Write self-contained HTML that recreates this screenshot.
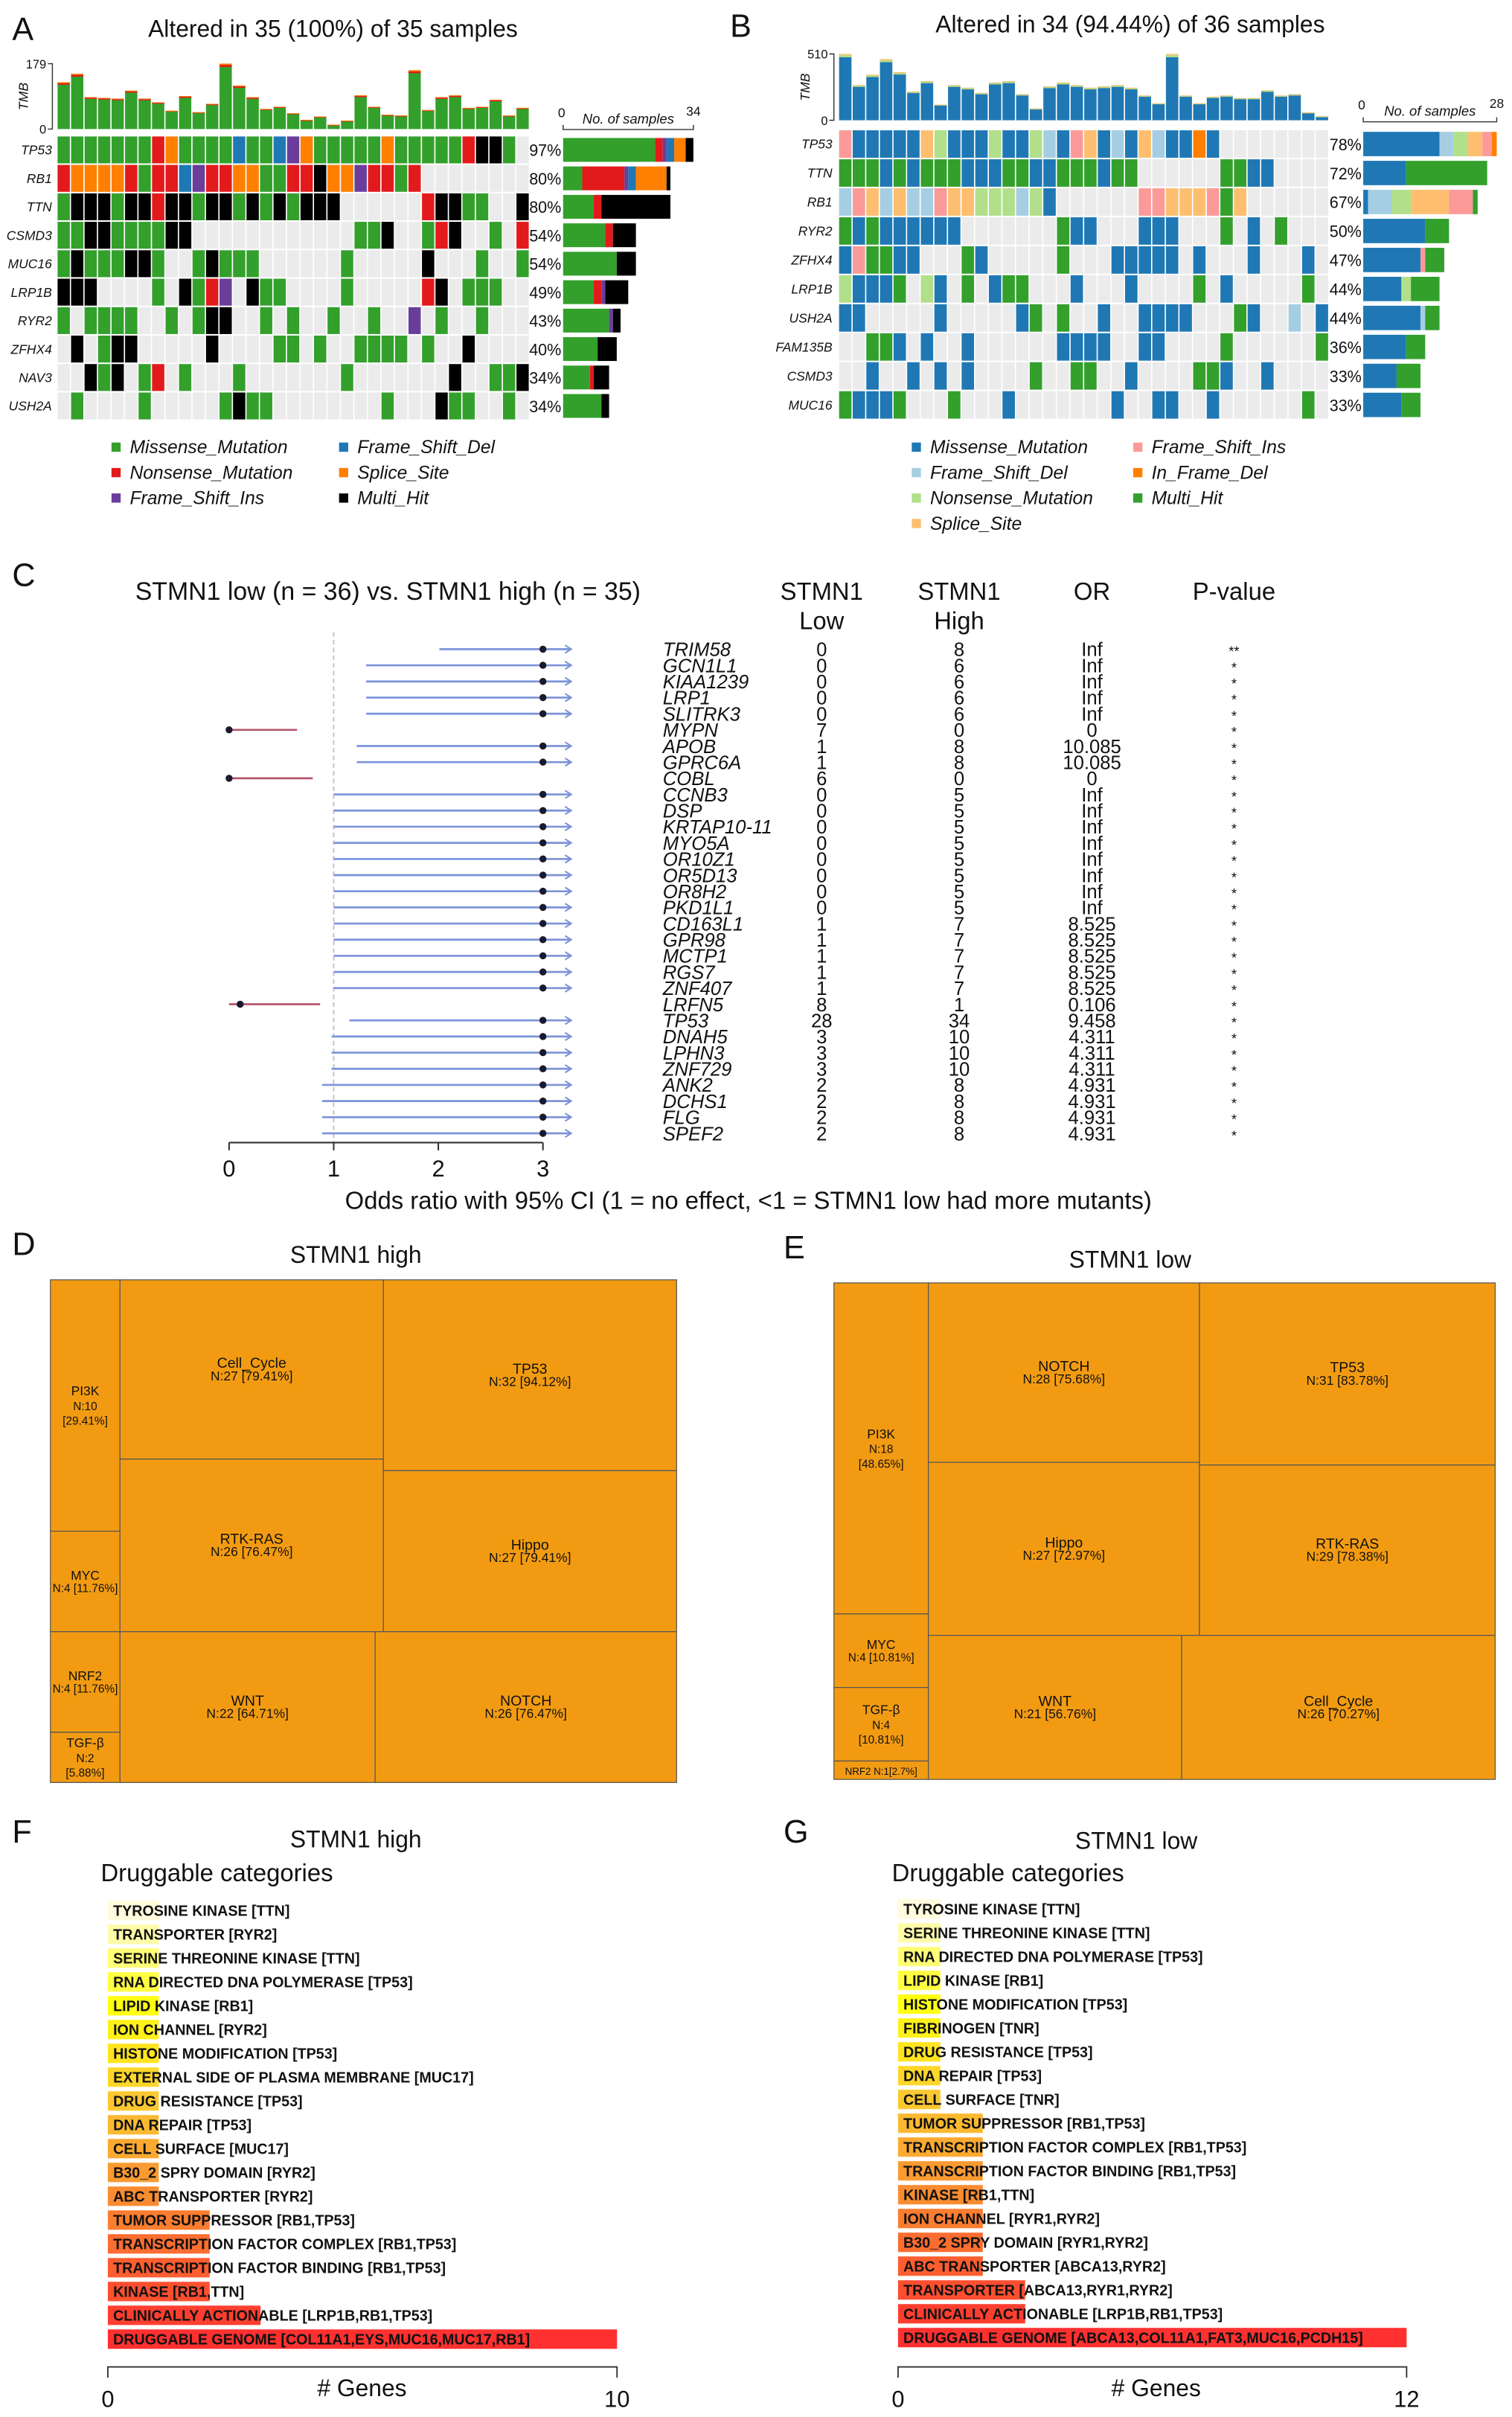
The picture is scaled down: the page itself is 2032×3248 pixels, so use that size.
<!DOCTYPE html>
<html><head><meta charset="utf-8">
<style>
html,body{margin:0;padding:0;background:#fff;width:2032px;height:3248px;overflow:hidden}
svg{display:block}
text{font-family:"Liberation Sans",sans-serif;fill:#111}
.nw{font-family:"Liberation Sans Narrow","Liberation Sans",sans-serif}
</style></head>
<body>
<svg id="fig" xmlns="http://www.w3.org/2000/svg" width="2032" height="3248" viewBox="0 0 990 1567.5" preserveAspectRatio="none">
<rect x="0" y="0" width="990" height="1567.5" fill="#fff"/>
<text x="8" y="26" font-size="21">A</text>
<text x="218" y="24" font-size="15.5" text-anchor="middle">Altered in 35 (100%) of 35 samples</text>
<text x="478" y="24" font-size="21">B</text>
<text x="740" y="21" font-size="15.5" text-anchor="middle">Altered in 34 (94.44%) of 36 samples</text>
<text x="8" y="380" font-size="21">C</text>
<text x="254" y="389" font-size="16.5" text-anchor="middle" class="nw">STMN1 low (n = 36) vs. STMN1 high (n = 35)</text>
<text x="538" y="389" font-size="16" text-anchor="middle" class="nw">STMN1</text>
<text x="538" y="408" font-size="16" text-anchor="middle" class="nw">Low</text>
<text x="628" y="389" font-size="16" text-anchor="middle" class="nw">STMN1</text>
<text x="628" y="408" font-size="16" text-anchor="middle" class="nw">High</text>
<text x="715" y="389" font-size="16" text-anchor="middle" class="nw">OR</text>
<text x="808" y="389" font-size="16" text-anchor="middle" class="nw">P-value</text>
<text x="490" y="784" font-size="16" text-anchor="middle" class="nw">Odds ratio with 95% CI (1 = no effect, &lt;1 = STMN1 low had more mutants)</text>
<text x="8" y="814" font-size="21">D</text>
<text x="233" y="819" font-size="15.5" text-anchor="middle">STMN1 high</text>
<text x="513" y="816" font-size="21">E</text>
<text x="740" y="822" font-size="15.5" text-anchor="middle">STMN1 low</text>
<text x="8" y="1195" font-size="21">F</text>
<text x="233" y="1198" font-size="15.5" text-anchor="middle">STMN1 high</text>
<text x="66" y="1220" font-size="16">Druggable categories</text>
<text x="237" y="1554" font-size="15.5" text-anchor="middle"># Genes</text>
<text x="513" y="1195" font-size="21">G</text>
<text x="744" y="1199" font-size="15.5" text-anchor="middle">STMN1 low</text>
<text x="584" y="1220" font-size="16">Druggable categories</text>
<text x="757" y="1554" font-size="15.5" text-anchor="middle"># Genes</text>
</svg>
<script>
// ---------- Panel A data ----------
const aGenes=['TP53','RB1','TTN','CSMD3','MUC16','LRP1B','RYR2','ZFHX4','NAV3','USH2A'];
const aPct=['97%','80%','80%','54%','54%','49%','43%','40%','34%','34%'];
const aRows=[
"gggggggroggggbggbpogggggogggggrkkg.",
"roooorgrrbprrooggrrkooprrgr........",
"gkkkgkkrkkgkkgkgkgkkk......rkkgg..k",
"ggkkggggkk............ggk..grk..g.r",
"gkgggkkg..gkggg......g.....k...g..g",
"kkk....g.kgrp.kgg....g.....rk.ggg.",
"g.gggg..g.gkk..g.g..g..g..p.g..g...",
".k.gkk.....k....gg.g..gggg.g..k...",
"..kgk.gr.g...g.......g.......k..ggk",
".g....g.....gkgg........g...kgg..g.g"];
const aTmb=[128,151,87,85,83,105,83,73,50,90,46,69,179,119,87,55,61,43,25,34,12,23,92,61,39,37,161,52,87,92,58,61,80,37,58];
const aTmbMax=179;
const aSide=[[24,2,1,2,3,2],[5,11,1,2,8,1],[8,2,0,0,0,18],[11,2,0,0,0,6],[14,0,0,0,0,5],[8,2,1,0,0,6],[12,0,1,0,0,2],[9,0,0,0,0,5],[7,1,0,0,0,4],[10,0,0,0,0,2]];
const aSideMax=34;
const aOrder=['g','r','p','b','o','k'];
const aColors={g:'#33a02c',r:'#e31a1c',p:'#6a3d9a',b:'#1f78b4',o:'#ff7f00',k:'#000000'};
const aLegendKeys=['g','r','p','b','o','k'];
const aLegendText=['Missense_Mutation','Nonsense_Mutation','Frame_Shift_Ins','Frame_Shift_Del','Splice_Site','Multi_Hit'];

// ---------- Panel B data ----------
const bGenes=['TP53','TTN','RB1','RYR2','ZFHX4','LRP1B','USH2A','FAM135B','CSMD3','MUC16'];
const bPct=['78%','72%','67%','50%','47%','44%','44%','36%','33%','33%'];
const bRows=[
"immmmmsnmmmnmmndmismdmsdmmfm........",
"hhhmhmhhhmmmhhmmhhhmhh......hhmm....",
"disdsddissnnndnm......iisssihs......",
"hmhmmmmmm.......hmm...mmm...h.m.h...",
"mihhmm...hm.....h...mmmmm.m...m...m.",
"nmmmh.nm.h.mhh...m...m....h.m.....h.",
"mm.....m.....mh.h..m..mmmm...hm..d.mm",
"..hhm.m..m......mmmm..mm....h......h",
"..m..m.m.m....h..hh..m....hhm..m....",
"hmmmh...h...m.......m..mm..m......h."];
const bTmb=[510,270,350,470,370,220,300,120,270,250,210,290,300,200,90,260,290,270,250,260,270,250,190,130,510,190,130,180,190,170,170,230,190,200,60,30];
const bTmbMax=510;
const bSide=[[16,3,3,3,2,1,0],[9,0,0,0,0,0,17],[1,5,4,8,5,0,1],[13,0,0,0,0,0,5],[12,0,0,0,1,0,4],[8,0,2,0,0,0,6],[12,1,0,0,0,0,3],[9,0,0,0,0,0,4],[7,0,0,0,0,0,5],[8,0,0,0,0,0,4]];
const bSideMax=28;
const bOrder=['m','d','n','s','i','f','h'];
const bColors={m:'#1f78b4',d:'#a6cee3',n:'#b2df8a',s:'#fdbf6f',i:'#fb9a99',f:'#ff7f00',h:'#33a02c'};
const bLegendKeys=['m','d','n','s','i','f','h'];
const bLegendText=['Missense_Mutation','Frame_Shift_Del','Nonsense_Mutation','Splice_Site','Frame_Shift_Ins','In_Frame_Del','Multi_Hit'];

// ---------- Panel C data ----------
const fGenes=['TRIM58','GCN1L1','KIAA1239','LRP1','SLITRK3','MYPN','APOB','GPRC6A','COBL','CCNB3','DSP','KRTAP10-11','MYO5A','OR10Z1','OR5D13','OR8H2','PKD1L1','CD163L1','GPR98','MCTP1','RGS7','ZNF407','LRFN5','TP53','DNAH5','LPHN3','ZNF729','ANK2','DCHS1','FLG','SPEF2'];
const fLow=[0,0,0,0,0,7,1,1,6,0,0,0,0,0,0,0,0,1,1,1,1,1,8,28,3,3,3,2,2,2,2];
const fHigh=[8,6,6,6,6,0,8,8,0,5,5,5,5,5,5,5,5,7,7,7,7,7,1,34,10,10,10,8,8,8,8];
const fOR=['Inf','Inf','Inf','Inf','Inf','0','10.085','10.085','0','Inf','Inf','Inf','Inf','Inf','Inf','Inf','Inf','8.525','8.525','8.525','8.525','8.525','0.106','9.458','4.311','4.311','4.311','4.931','4.931','4.931','4.931'];
const fP=['**','*','*','*','*','*','*','*','*','*','*','*','*','*','*','*','*','*','*','*','*','*','*','*','*','*','*','*','*','*','*'];
const fCiLow=[2.01,1.31,1.31,1.31,1.31,0,1.22,1.22,0,1,1,1,1,1,1,1,1,1,1,1,1,1,0,1.15,0.98,0.98,0.98,0.89,0.89,0.89,0.89];
const fCiHigh=[Infinity,Infinity,Infinity,Infinity,Infinity,0.65,Infinity,Infinity,0.8,Infinity,Infinity,Infinity,Infinity,Infinity,Infinity,Infinity,Infinity,Infinity,Infinity,Infinity,Infinity,Infinity,0.87,Infinity,Infinity,Infinity,Infinity,Infinity,Infinity,Infinity,Infinity];
const fTicks=[0,1,2,3];

// ---------- Panel D/E data ----------
const dNames=['PI3K','MYC','NRF2','TGF-β','Cell_Cycle','RTK-RAS','TP53','Hippo','WNT','NOTCH'];
const dN=[10,4,4,2,27,26,32,27,22,26];
const dPct=['29.41%','11.76%','11.76%','5.88%','79.41%','76.47%','94.12%','79.41%','64.71%','76.47%'];
const dTree={dir:'h',kids:[{dir:'v',kids:[0,1,2,3]},{dir:'v',kids:[{dir:'h',kids:[{dir:'v',kids:[4,5]},{dir:'v',kids:[6,7]}]},{dir:'h',kids:[8,9]}]}]};
const eNames=['PI3K','MYC','TGF-β','NRF2','NOTCH','Hippo','TP53','RTK-RAS','WNT','Cell_Cycle'];
const eN=[18,4,4,1,28,27,31,29,21,26];
const ePct=['48.65%','10.81%','10.81%','2.7%','75.68%','72.97%','83.78%','78.38%','56.76%','70.27%'];
const eTree={dir:'h',kids:[{dir:'v',kids:[0,1,2,3]},{dir:'v',kids:[{dir:'h',kids:[{dir:'v',kids:[4,5]},{dir:'v',kids:[6,7]}]},{dir:'h',kids:[8,9]}]}]};

// ---------- Panel F/G data ----------
const gfLabels=['TYROSINE KINASE [TTN]','TRANSPORTER [RYR2]','SERINE THREONINE KINASE [TTN]','RNA DIRECTED DNA POLYMERASE [TP53]','LIPID KINASE [RB1]','ION CHANNEL [RYR2]','HISTONE MODIFICATION [TP53]','EXTERNAL SIDE OF PLASMA MEMBRANE [MUC17]','DRUG RESISTANCE [TP53]','DNA REPAIR [TP53]','CELL SURFACE [MUC17]','B30_2 SPRY DOMAIN [RYR2]','ABC TRANSPORTER [RYR2]','TUMOR SUPPRESSOR [RB1,TP53]','TRANSCRIPTION FACTOR COMPLEX [RB1,TP53]','TRANSCRIPTION FACTOR BINDING [RB1,TP53]','KINASE [RB1,TTN]','CLINICALLY ACTIONABLE [LRP1B,RB1,TP53]','DRUGGABLE GENOME [COL11A1,EYS,MUC16,MUC17,RB1]'];
const gfValues=[1,1,1,1,1,1,1,1,1,1,1,1,1,2,2,2,2,3,10];
const gfMax=10;
const ggLabels=['TYROSINE KINASE [TTN]','SERINE THREONINE KINASE [TTN]','RNA DIRECTED DNA POLYMERASE [TP53]','LIPID KINASE [RB1]','HISTONE MODIFICATION [TP53]','FIBRINOGEN [TNR]','DRUG RESISTANCE [TP53]','DNA REPAIR [TP53]','CELL SURFACE [TNR]','TUMOR SUPPRESSOR [RB1,TP53]','TRANSCRIPTION FACTOR COMPLEX [RB1,TP53]','TRANSCRIPTION FACTOR BINDING [RB1,TP53]','KINASE [RB1,TTN]','ION CHANNEL [RYR1,RYR2]','B30_2 SPRY DOMAIN [RYR1,RYR2]','ABC TRANSPORTER [ABCA13,RYR2]','TRANSPORTER [ABCA13,RYR1,RYR2]','CLINICALLY ACTIONABLE [LRP1B,RB1,TP53]','DRUGGABLE GENOME [ABCA13,COL11A1,FAT3,MUC16,PCDH15]'];
const ggValues=[1,1,1,1,1,1,1,1,1,2,2,2,2,2,2,2,3,3,12];
const ggMax=12;

// ---------- helpers ----------
const NS='http://www.w3.org/2000/svg';
const svg=document.getElementById('fig');
function mk(tag,attrs,parent){const e=document.createElementNS(NS,tag);for(const k in attrs)e.setAttribute(k,attrs[k]);(parent||svg).appendChild(e);return e;}
function txt(s,x,y,size,extra,parent){const e=mk('text',Object.assign({x:x,y:y,'font-size':size},extra||{}),parent);e.textContent=s;return e;}

// ---------- oncoplot ----------
function drawOnco(name,genes,pct,rows,tmb,tmbMax,side,sideMax,order,colors,caps,lKeys,lText,lCols,geo){
  const g=mk('g',{});
  
  
  const n=tmb.length, cw=(geo.x1-geo.x0)/n;
  const xs=i=>geo.x0+i*cw;
  const ty=v=>geo.tmbBase-(v/tmbMax)*(geo.tmbBase-geo.tmbTop);
  const ax=mk('path',{d:`M${geo.x0-6},${ty(tmbMax)} H${geo.x0-3} V${ty(0)} H${geo.x0-6}`,stroke:'#333','stroke-width':0.7,fill:'none'},g);
  
  
  const t1=txt(String(tmbMax),geo.x0-7,ty(tmbMax)+3,8,{'text-anchor':'end'},g);
  
  
  const t0=txt('0',geo.x0-7,ty(0)+3,8,{'text-anchor':'end'},g);
  
  
  const tt=txt('TMB',0,0,8.5,{'font-style':'italic','text-anchor':'middle',transform:`translate(${geo.x0-19},${(ty(0)+ty(tmbMax))/2}) rotate(-90)`},g);
  
  
  tmb.forEach((v,i)=>{
    const h=geo.tmbBase-ty(v);
    const b=mk('rect',{x:xs(i)+0.4,y:ty(v),width:cw-0.8,height:h,fill:colors[order[0]]},g);
    
    
    const c1=mk('rect',{x:xs(i)+0.4,y:ty(v),width:cw-0.8,height:Math.max(0.6,h*0.05),fill:caps[0]},g);
    
    
    const c2=mk('rect',{x:xs(i)+0.4,y:ty(v),width:cw-0.8,height:Math.max(0.4,h*0.02),fill:caps[1]},g);
    
    
  });
  const sx=v=>geo.sideX0+v/sideMax*(geo.sideX1-geo.sideX0);
  rows.forEach((s,gi)=>{
    const y=geo.y0+gi*geo.rowH;
    for(let i=0;i<n;i++){
      const c=s[i]||'.';
      const r=mk('rect',{x:xs(i)+0.4,y:y+0.5,width:cw-0.8,height:geo.rowH-1,fill:c==='.'||!colors[c]?'#ebebeb':colors[c]},g);
      
      
    }
    const gl=txt(genes[gi],geo.labelX,y+geo.rowH/2+3,8.5,{'text-anchor':'end','font-style':'italic'},g);
    
    
    const pl=txt(pct[gi],geo.pctX,y+geo.rowH/2+4,10.5,{},g);
    
    
    let acc=0;
    side[gi].forEach((v,k)=>{
      if(!v)return;
      const sb=mk('rect',{x:sx(acc),y:y+1.5,width:sx(acc+v)-sx(acc),height:geo.rowH-3,fill:colors[order[k]]},g);
      
      
      acc+=v;
    });
  });
  const sa=mk('path',{d:`M${sx(0)},${geo.sideAxisY-3} V${geo.sideAxisY} H${sx(sideMax)} V${geo.sideAxisY-3}`,stroke:'#333','stroke-width':0.7,fill:'none'},g);
  
  
  const s0=txt('0',sx(0)-1,geo.sideAxisY-8,8.5,{'text-anchor':'middle'},g);
  
  
  const s1=txt(String(sideMax),sx(sideMax),geo.sideAxisY-9,8.5,{'text-anchor':'middle'},g);
  
  
  const st=txt('No. of samples',(sx(0)+sx(sideMax))/2,geo.sideAxisY-4,9,{'text-anchor':'middle','font-style':'italic'},g);
  
  
  lKeys.forEach((k,i)=>{
    const col=i<lCols?0:1, row=i<lCols?i:i-lCols;
    const lx=geo.legX[col], ly=geo.legY+row*16.5;
    const sq=mk('rect',{x:lx,y:ly-7,width:6,height:6,fill:colors[k]},g);
    
    
    const lt=txt(lText[i],lx+12,ly,12,{'font-style':'italic'},g);
    
    
  });
}
drawOnco('oncoplot-a',aGenes,aPct,aRows,aTmb,aTmbMax,aSide,aSideMax,aOrder,aColors,['#e31a1c','#ff7f00'],aLegendKeys,aLegendText,3,
  {x0:37.3,x1:346.6,y0:88,rowH:18.45,tmbBase:83.7,tmbTop:41.3,labelX:34,pctX:346.5,sideX0:368.7,sideX1:454,sideAxisY:84,legX:[73,222],legY:294});
drawOnco('oncoplot-b',bGenes,bPct,bRows,bTmb,bTmbMax,bSide,bSideMax,bOrder,bColors,['#b2df8a','#fdbf6f'],bLegendKeys,bLegendText,4,
  {x0:549,x1:870,y0:84,rowH:18.8,tmbBase:78,tmbTop:35,labelX:545,pctX:870.5,sideX0:892.6,sideX1:980,sideAxisY:79,legX:[597,742],legY:294});

// ---------- forest plot ----------
(function(){
  const g=mk('g',{});
  
  
  const xs=v=>150+v*68.5;
  const y0=421, y1=735, step=(y1-y0)/(fGenes.length-1);
  const ys=i=>y0+i*step;
  const ref=mk('line',{x1:xs(1),x2:xs(1),y1:410,y2:741,stroke:'#bbb','stroke-width':0.8,'stroke-dasharray':'3,2'},g);
  
  
  fGenes.forEach((gn,i)=>{
    const y=ys(i);
    const est=fOR[i]==='Inf'?Infinity:parseFloat(fOR[i]);
    const col=est<1?'#b5566e':'#7b93d9';
    const hi=Math.min(fCiHigh[i],3.27);
    const ln=mk('line',{x1:xs(fCiLow[i]),x2:xs(hi),y1:y,y2:y,stroke:col,'stroke-width':1.3},g);
    
    
    if(fCiHigh[i]>3.27){
      const ar=mk('path',{d:`M${xs(hi)-4},${y-2.5} L${xs(hi)},${y} L${xs(hi)-4},${y+2.5}`,stroke:col,'stroke-width':1,fill:'none'},g);
      
      
    }
    const pt=mk('circle',{cx:xs(Math.min(est,3)),cy:y,r:2.3,fill:'#1a1a2e'},g);
    
    
    const t=txt(gn,434,y+4.5,12.5,{'font-style':'italic',class:'nw'},g);
    
    
    const tl=txt(String(fLow[i]),538,y+4.5,12.5,{'text-anchor':'middle',class:'nw'},g);
    
    
    const th=txt(String(fHigh[i]),628,y+4.5,12.5,{'text-anchor':'middle',class:'nw'},g);
    
    
    const to=txt(fOR[i],715,y+4.5,12.5,{'text-anchor':'middle',class:'nw'},g);
    
    
    const tp=txt(fP[i],808,y+4.5,9,{'text-anchor':'middle'},g);
    
    
  });
  const ax=mk('line',{x1:xs(0),x2:xs(3),y1:741,y2:741,stroke:'#333','stroke-width':1},g);
  
  
  fTicks.forEach(v=>{
    const tk=mk('line',{x1:xs(v),x2:xs(v),y1:741,y2:746,stroke:'#333','stroke-width':1},g);
    
    
    const tl=txt(String(v),xs(v),763,15,{'text-anchor':'middle',class:'nw'},g);
    
    
  });
})();

// ---------- treemaps ----------
function tmSum(node,vals){return typeof node==='number'?vals[node]:node.kids.reduce((s,k)=>s+tmSum(k,vals),0);}
function tmLayout(node,vals,x,y,w,h,out){
  if(typeof node==='number'){out[node]={x:x,y:y,w:w,h:h};return;}
  const tot=tmSum(node,vals);let off=0;
  node.kids.forEach(k=>{const f=tmSum(k,vals)/tot;
    if(node.dir==='h'){tmLayout(k,vals,x+off,y,w*f,h,out);off+=w*f;}
    else{tmLayout(k,vals,x,y+off,w,h*f,out);off+=h*f;}});
}
function drawTree(name,names,vals,pcts,tree,X,Y,W,H){
  const g=mk('g',{});
  
  
  const out=[];tmLayout(tree,vals,X,Y,W,H,out);
  names.forEach((nm,i)=>{
    const r=out[i];
    const rc=mk('rect',{x:r.x,y:r.y,width:r.w,height:r.h,fill:'#f29b12',stroke:'#555','stroke-width':0.6},g);
    
    
    let lines;
    if(r.h<15) lines=[nm+' N:'+vals[i]+'['+pcts[i]+']'];
    else if(r.w<65 && nm!=='MYC' && nm!=='NRF2') lines=[nm,'N:'+vals[i],'['+pcts[i]+']'];
    else lines=[nm,'N:'+vals[i]+' ['+pcts[i]+']'];
    const big=r.w>100, fs=lines.length===1?6.5:(big?9.5:8.5), lh=lines.length===3?9.5:8;
    const cy=r.y+r.h/2-(lines.length-1)*lh/2+3;
    lines.forEach((l,j)=>{
      const t=txt(l,r.x+r.w/2,cy+j*lh,j===0?fs:fs-1,{'text-anchor':'middle',class:'nw',fill:'#222'},g);
      
      
    });
  });
}
drawTree('treemap-stmn1-high',dNames,dN,dPct,dTree,33,830,410,326);
drawTree('treemap-stmn1-low',eNames,eN,ePct,eTree,546,832,433,322);

// ---------- druggable bars ----------
function hex(c){return [1,3,5].map(i=>parseInt(c.substr(i,2),16));}
const stops=[[0,'#fffbdc'],[4/18,'#ffff10'],[8/18,'#fcc832'],[12/18,'#f98c30'],[1,'#ff3030']];
function grad(t){for(let k=1;k<stops.length;k++){if(t<=stops[k][0]){const a=hex(stops[k-1][1]),b=hex(stops[k][1]),f=(t-stops[k-1][0])/(stops[k][0]-stops[k-1][0]);return 'rgb('+a.map((v,j)=>Math.round(v+(b[j]-v)*f)).join(',')+')';}}return stops[stops.length-1][1];}
function drawDrug(name,labels,vals,max,x0,x1,yTop,yBot){
  const g=mk('g',{});
  
  
  const xs=v=>x0+v/max*(x1-x0);
  const step=(yBot-yTop)/(labels.length-1);
  labels.forEach((l,i)=>{
    const y=yTop+i*step;
    const b=mk('rect',{x:xs(0),y:y-6.3,width:xs(vals[i])-xs(0),height:12.6,fill:grad(i/(labels.length-1))},g);
    
    
    const t=txt(l,x0+3.5,y+3.5,9.6,{'font-weight':'bold'},g);
    
    
  });
  const ax=mk('path',{d:`M${xs(0)},1542 V1535 H${xs(max)} V1542`,stroke:'#333','stroke-width':0.9,fill:'none'},g);
  
  
  const a0=txt('0',xs(0),1561,15,{'text-anchor':'middle'},g);
  
  
  const a1=txt(String(max),xs(max),1561,15,{'text-anchor':'middle'},g);
  
  
}
drawDrug('druggable-stmn1-high',gfLabels,gfValues,gfMax,70.6,404,1239,1517);
drawDrug('druggable-stmn1-low',ggLabels,ggValues,ggMax,588,921,1238,1516);
</script>
</body></html>
